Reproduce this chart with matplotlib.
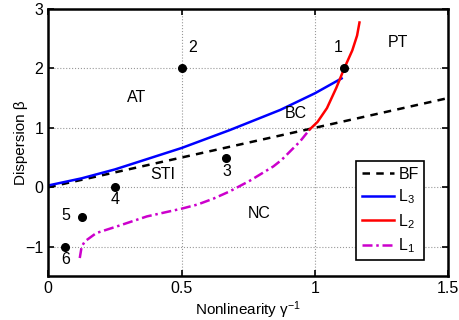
import matplotlib
matplotlib.use('Agg')
import matplotlib.pyplot as plt

plt.rcParams['font.family'] = ['Liberation Sans', 'DejaVu Sans']
plt.rcParams['mathtext.fontset'] = 'custom'
plt.rcParams['mathtext.rm'] = 'Liberation Sans'
plt.rcParams['mathtext.it'] = 'Liberation Sans:italic'
plt.rcParams['mathtext.default'] = 'rm'

# BF line
bf_x = [0, 1.5]
bf_y = [0, 1.5]

# L3 (blue)
l3_x = [0, 0.125, 0.25, 0.5, 0.68, 0.87, 1.0, 1.10]
l3_y = [0.03, 0.15, 0.30, 0.66, 0.96, 1.30, 1.58, 1.83]

# L2 (red)
l2_x = [0.98, 1.01, 1.045, 1.08, 1.11, 1.14, 1.158, 1.167]
l2_y = [0.97, 1.10, 1.33, 1.67, 2.0, 2.3, 2.55, 2.77]

# L1 (magenta)
l1_x = [0.118, 0.125, 0.137, 0.18, 0.256, 0.37, 0.5, 0.56, 0.62, 0.68, 0.756, 0.844, 0.875, 0.944, 0.98]
l1_y = [-1.19, -1.0, -0.91, -0.77, -0.66, -0.49, -0.36, -0.29, -0.19, -0.07, 0.11, 0.35, 0.46, 0.77, 0.97]

# numbered points
pt_x = [1.11, 0.5, 0.667, 0.25, 0.125, 0.0625]
pt_y = [2.0, 2.0, 0.5, 0.0, -0.5, -1.0]
pt_labels = ['1', '2', '3', '4', '5', '6']
lab_x = [1.086, 0.54, 0.669, 0.25, 0.066, 0.066]
lab_y = [2.35, 2.35, 0.26, -0.21, -0.48, -1.22]

# region names
reg_names = ['AT', 'PT', 'BC', 'STI', 'NC']
reg_x = [0.33, 1.31, 0.93, 0.43, 0.79]
reg_y = [1.51, 2.43, 1.24, 0.21, -0.44]

fig = plt.figure(figsize=(4.6, 3.2), dpi=100)
ax = fig.add_axes([0.105, 0.136, 0.8695, 0.8365])

ax.plot(bf_x, bf_y, 'k--', lw=1.8, dashes=(3, 2.5), label='BF')
ax.plot(l3_x, l3_y, color='#0000ff', lw=1.8, label='L$_3$')
ax.plot(l2_x, l2_y, color='#ff0000', lw=1.8, label='L$_2$')
ax.plot(l1_x, l1_y, color='#cc00cc', lw=1.8, ls=(0, (4, 1.5, 1, 1.5)), label='L$_1$')

ax.plot(pt_x, pt_y, 'ko', ms=5.5, zorder=5)
for x, y, t in zip(lab_x, lab_y, pt_labels):
    ax.text(x, y, t, fontsize=11.5, ha='center', va='center')
for x, y, t in zip(reg_x, reg_y, reg_names):
    ax.text(x, y, t, fontsize=11.5, ha='center', va='center')

ax.set_xlim(0, 1.5)
ax.set_ylim(-1.5, 3)
ax.set_xticks([0, 0.5, 1, 1.5])
ax.set_xticklabels(['0', '0.5', '1', '1.5'])
ax.set_yticks([-1, 0, 1, 2, 3])
ax.set_yticklabels(['\u22121', '0', '1', '2', '3'])
ax.grid(True, ls=':', color='#999999', lw=0.8)
ax.tick_params(direction='in', top=True, right=True, labelsize=11.5, width=1.2, length=4)
for s in ax.spines.values():
    s.set_linewidth(1.8)

ax.set_xlabel('Nonlinearity \u03b3$^{-1}$', fontsize=11, labelpad=2)
ax.set_ylabel('Dispersion \u03b2', fontsize=11, labelpad=-2)

leg = ax.legend(loc='lower right', bbox_to_anchor=(0.94, 0.06), borderaxespad=0,
                fontsize=11.5, handlelength=2.0, handletextpad=0.3,
                labelspacing=0.35, borderpad=0.35, fancybox=False,
                framealpha=1, edgecolor='k')
leg.get_frame().set_linewidth(1.2)

fig.savefig('out.png', dpi=100)
